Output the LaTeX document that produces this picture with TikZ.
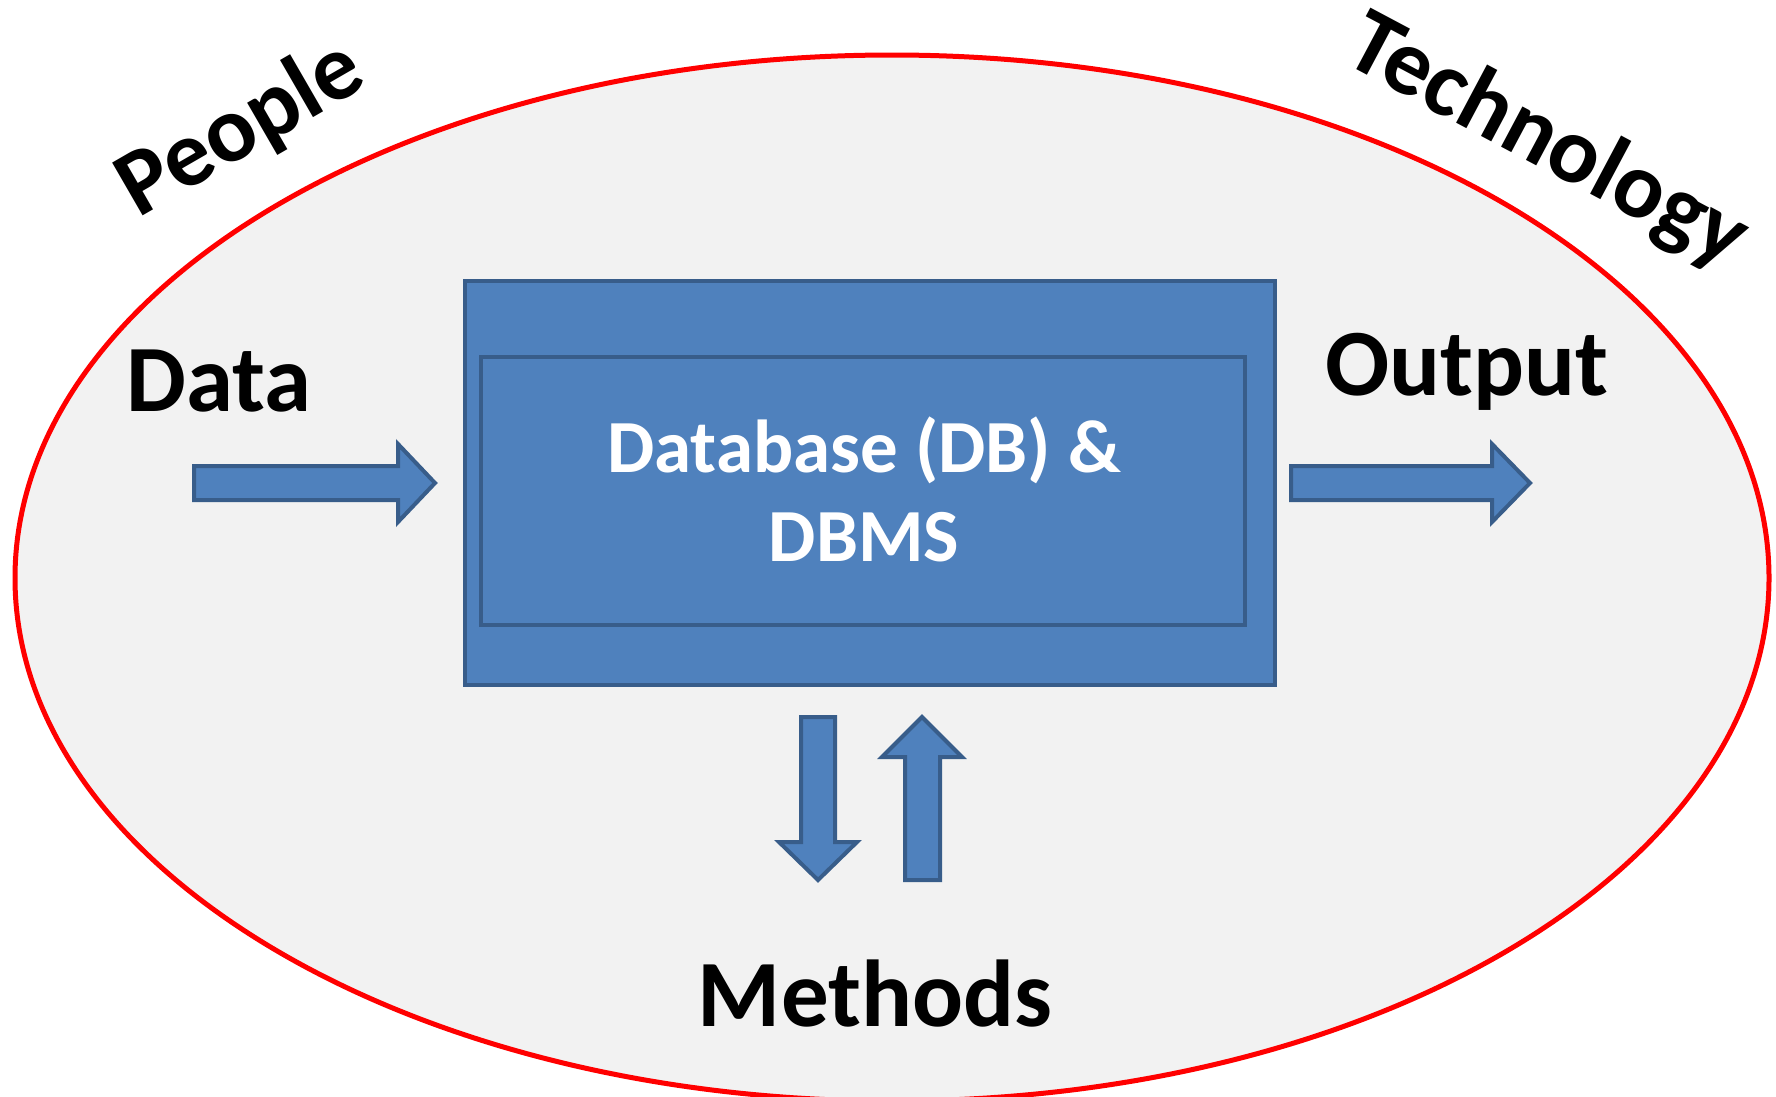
\documentclass[tikz,border=0pt]{standalone}
\usepackage{fontspec}
\setmainfont{Carlito}
\definecolor{boxblue}{HTML}{4F81BD}
\definecolor{boxline}{HTML}{385D8A}
\definecolor{ellfill}{HTML}{F2F2F2}
\tikzset{
  blockbox/.style={draw=boxline, fill=boxblue, line width=4.5pt, rectangle, inner sep=0pt},
  blockarrow/.style={draw=boxline, fill=boxblue, line width=4pt, line join=miter},
  bigword/.style={font=\fontsize{95}{114}\selectfont\bfseries, text=black, inner sep=0pt},
  arcword/.style={font=\fontsize{94}{112}\selectfont\bfseries, text=black, inner sep=0pt},
  boxword/.style={font=\fontsize{75}{96}\selectfont\bfseries, text=white, inner sep=0pt}
}
\begin{document}
\begin{tikzpicture}[x=1pt,y=-1pt]
\useasboundingbox (0,0) rectangle (1776,1096);
\fill[white] (0,0) rectangle (1776,1096);
% ellipse
\draw[draw=red, fill=ellfill, line width=5pt] (892,578) ellipse [x radius=877pt, y radius=523pt];
% boxes
\node[blockbox, minimum width=810pt, minimum height=404pt] (outer) at (870,483) {};
\node[blockbox, minimum width=764pt, minimum height=268pt] (inner) at (863,491) {};
\node[boxword, anchor=base] (db1) at (864,472) {Database (DB) \&};
\node[boxword, anchor=base] (db2) at (864,561) {DBMS};
% arrows
\draw[blockarrow] (194,466) -- (398,466) -- (398,444) -- (435,483) -- (398,522) -- (398,500) -- (194,500) -- cycle;
\draw[blockarrow] (1291,466) -- (1492,466) -- (1492,444) -- (1530,483) -- (1492,522) -- (1492,500) -- (1291,500) -- cycle;
\draw[blockarrow] (801,717) -- (835,717) -- (835,842) -- (857,842) -- (818,880) -- (779,842) -- (801,842) -- cycle;
\draw[blockarrow] (905,880) -- (940,880) -- (940,757) -- (962,757) -- (922,717) -- (882,757) -- (905,757) -- cycle;
% labels
\node[bigword, anchor=base west] (data) at (126,411) {Data};
\node[bigword, anchor=base] (output) at (1467,395) {Output};
\node[bigword, anchor=base] (methods) at (875,1026) {Methods};
\node[arcword, anchor=base, rotate=30] (people) at (254,152) {People};
\node[arcword, anchor=base, rotate=-28] (tech) at (1535,165) {Technology};
\end{tikzpicture}
\end{document}
